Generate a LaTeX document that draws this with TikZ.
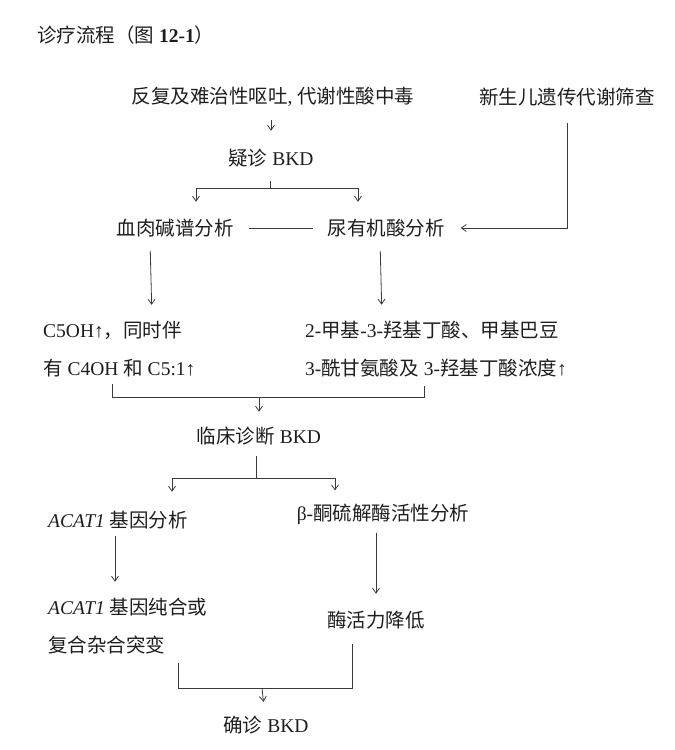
\documentclass[tikz,border=0pt]{standalone}
\usepackage{fontspec}
\setmainfont{Liberation Serif}
\newfontfamily\cjk{Noto Sans CJK SC}
\usepackage{xcolor}
\definecolor{InkBlack}{HTML}{1E1E1E}
\definecolor{InkGray}{HTML}{3A3A3A}
\usetikzlibrary{arrows.meta, positioning, calc}
\newcommand{\zh}[1]{{\cjk #1}}

\begin{document}
\begin{tikzpicture}[x=1pt, y=-1pt,
    txt/.style={inner sep=2pt, text=InkBlack, font=\fontsize{19.5}{38}\selectfont},
    link/.style={draw=InkGray, line width=0.8pt},
    flow/.style={link, -{Straight Barb[length=5pt,width=7pt]}}]
    \useasboundingbox (0,0) rectangle (675,750);

    % Title
    \node (title) [txt, anchor=west] at (35,35) {\zh{诊疗流程（图} \textbf{12-1}\zh{）}};

    % Entry points
    \node (vomit) [txt] at (273,97) {\zh{反复及难治性呕吐}, \zh{代谢性酸中毒}};
    \node (screen) [txt] at (567,97) {\zh{新生儿遗传代谢筛查}};
    \node (suspect) [txt] at (271,158) {\zh{疑诊} BKD};

    % First tests
    \node (carnitine) [txt] at (175,228) {\zh{血肉碱谱分析}};
    \node (urine) [txt] at (386,228) {\zh{尿有机酸分析}};
    \node (carnres) [txt, anchor=west, align=left] at (41,349) {C5OH↑\zh{，同时伴}\\\zh{有} C4OH \zh{和} C5:1↑};
    \node (urineres) [txt, anchor=west, align=left] at (303,349) {2-\zh{甲基}-3-\zh{羟基丁酸、甲基巴豆}\\3-\zh{酰甘氨酸及} 3-\zh{羟基丁酸浓度}↑};

    \node (clinical) [txt] at (259,436) {\zh{临床诊断} BKD};

    % Confirmation tests
    \node (gene) [txt, anchor=west] at (46,520) {\textit{ACAT1} \zh{基因分析}};
    \node (enzyme) [txt] at (383,514) {β-\zh{酮硫解酶活性分析}};
    \node (generes) [txt, anchor=west, align=left] at (46,626) {\textit{ACAT1} \zh{基因纯合或}\\\zh{复合杂合突变}};
    \node (enzres) [txt] at (376,620) {\zh{酶活力降低}};
    \node (confirm) [txt] at (266,725) {\zh{确诊} BKD};

    % Branch points
    \coordinate (split1) at (270,188);
    \coordinate (join1) at (259,397);
    \coordinate (split2) at (256,478);
    \coordinate (join2) at (262,688);

    % Connectors
    \draw[flow, shorten <=11pt, shorten >=16pt] (vomit.south -| suspect) -- (suspect);
    \draw[link, shorten <=12pt] (suspect.south -| split1) -- (split1);
    \draw[flow, shorten >=15pt] (split1) -| ([xshift=21pt]carnitine.north);
    \draw[flow, shorten >=15pt] (split1) -| ([xshift=-28pt]urine.north);
    \draw[link, shorten <=13pt, shorten >=12pt] (carnitine) -- (urine);
    \draw[flow, shorten <=15pt, shorten >=14pt] (screen) |- (urine);

    \draw[flow, shorten <=12pt, shorten >=14pt] ([xshift=-25pt]carnitine.south) -- ([xshift=111pt]carnres.north west);
    \draw[flow, shorten <=12pt, shorten >=14pt] ([xshift=-6pt]urine.south) -- ([xshift=79pt]urineres.north west);
    \draw[link, shorten <=5pt] ([xshift=71pt]carnres.south west) |- (join1);
    \draw[link, shorten <=7pt] ([xshift=121pt]urineres.south west) |- (join1);
    \draw[flow, shorten >=13pt] (join1) -- (clinical);

    \draw[link, shorten <=9pt] (clinical.south -| split2) -- (split2);
    \draw[flow, shorten >=17pt] (split2) -| ([xshift=126pt]gene.north west);
    \draw[flow, shorten >=11pt] (split2) -| ([xshift=-48pt]enzyme.north);
    \draw[flow, shorten <=5pt, shorten >=14pt] ([xshift=69pt]gene.south west) -- ([xshift=69pt]generes.north west);
    \draw[flow, shorten <=6pt, shorten >=15pt] (enzyme.south -| enzres) -- (enzres);
    \draw[link, shorten <=7pt] ([xshift=132pt]generes.south west) |- (join2);
    \draw[link, shorten <=13pt] ([xshift=-24pt]enzres.south) |- (join2);
    \draw[flow, shorten >=12pt] (join2) -- (confirm);
\end{tikzpicture}
\end{document}
